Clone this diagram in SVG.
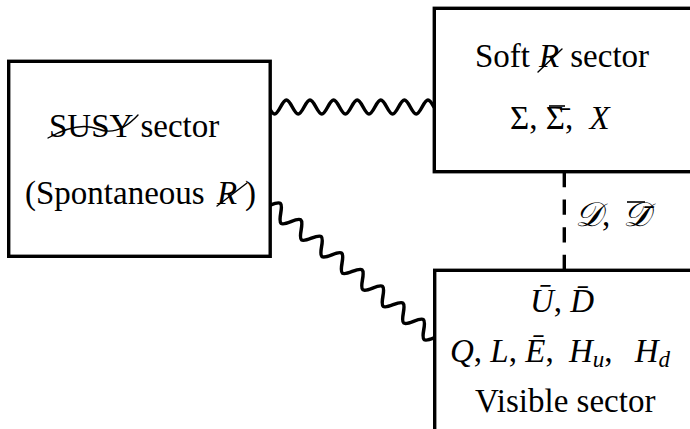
<svg xmlns="http://www.w3.org/2000/svg" width="690" height="429" viewBox="0 0 690 429">
<style>
.box{fill:#fff;stroke:#000;stroke-width:3.4;stroke-linejoin:miter}
.w{fill:none;stroke:#000;stroke-width:3.5;stroke-linecap:round;stroke-linejoin:round}
.t{font-family:"Liberation Serif","DejaVu Serif",serif;font-size:33px;fill:#000}
.i{font-style:italic}
.s{font-size:23px}
.sc{font-size:34px}
.sl{fill:none;stroke:#000;stroke-width:1.4;stroke-linecap:round}
.bar{stroke:#000;stroke-width:1.6}
</style>
<rect width="690" height="429" fill="#fff"/>
<g id="connectors">
<path class="w" d="M268.7,107 c5.01,9.33 6.79,9.33 11.8,0 s6.79,-9.33 11.8,0 s6.79,9.33 11.8,0 s6.79,-9.33 11.8,0 s6.79,9.33 11.8,0 s6.79,-9.33 11.8,0 s6.79,9.33 11.8,0 s6.79,-9.33 11.8,0 s6.79,9.33 11.8,0 s6.79,-9.33 11.8,0 s6.79,9.33 11.8,0 s6.79,-9.33 11.8,0 s6.79,9.33 11.8,0 s6.79,-9.33 11.8,0"/>
<path class="w" transform="translate(270.5,205) rotate(39.12)" d="M0,0 c5.59,-10 7.58,-10 13.17,0 s7.58,10 13.17,0 s7.58,-10 13.17,0 s7.58,10 13.17,0 s7.58,-10 13.17,0 s7.58,10 13.17,0 s7.58,-10 13.17,0 s7.58,10 13.17,0 s7.58,-10 13.17,0 s7.58,10 13.17,0 s7.58,-10 13.17,0 s7.58,10 13.17,0 s7.58,-10 13.17,0 s7.58,10 13.17,0 s7.58,-10 13.17,0 s7.58,10 13.17,0"/>
<line x1="564.3" y1="172" x2="564.3" y2="270" stroke="#000" stroke-width="3.4" stroke-dasharray="15.2 12.4"/>
<text class="t" y="226"><tspan x="575" class="i sc">𝒟</tspan>, <tspan x="623" class="i sc">𝒟&#x304;</tspan></text>
<line class="bar" x1="627" y1="202" x2="645" y2="202"/>
</g>
<g id="susy">
<rect class="box" x="8.7" y="61.3" width="261.5" height="195"/>
<text class="t" x="49" y="137">SUSY sector</text>
<path class="sl" d="M48,138 Q78,121 98,129 T138,115"/>
<text class="t" y="204"><tspan x="25">(Spontaneous </tspan><tspan x="217" class="i">R</tspan><tspan x="245">)</tspan></text>
<line class="sl" x1="217" y1="206" x2="247" y2="183"/>
</g>
<g id="soft">
<rect class="box" x="434.3" y="8.3" width="270" height="163.4"/>
<text class="t" y="67"><tspan x="475">Soft </tspan><tspan x="539" class="i">R</tspan><tspan x="562"> sector</tspan></text>
<line class="sl" x1="538" y1="72" x2="562" y2="49"/>
<text class="t" x="510" y="129">Σ, Σ&#x304;, <tspan class="i" dx="8">X</tspan></text>
<line class="bar" x1="549" y1="106" x2="565" y2="106"/>
</g>
<g id="visible">
<rect class="box" x="434.7" y="270.3" width="270" height="180"/>
<text class="t" x="530" y="312"><tspan class="i">U&#x304;</tspan>, <tspan class="i">D&#x304;</tspan></text>
<text class="t" x="450" y="362"><tspan class="i">Q</tspan>, <tspan class="i">L</tspan>, <tspan class="i">E&#x304;</tspan>, <tspan class="i" dx="7">H</tspan><tspan class="s i" dy="5">u</tspan><tspan dy="-5">, </tspan><tspan class="i" dx="14">H</tspan><tspan class="s i" dy="5">d</tspan></text>
<text class="t" x="475" y="412">Visible sector</text>
</g>
</svg>
